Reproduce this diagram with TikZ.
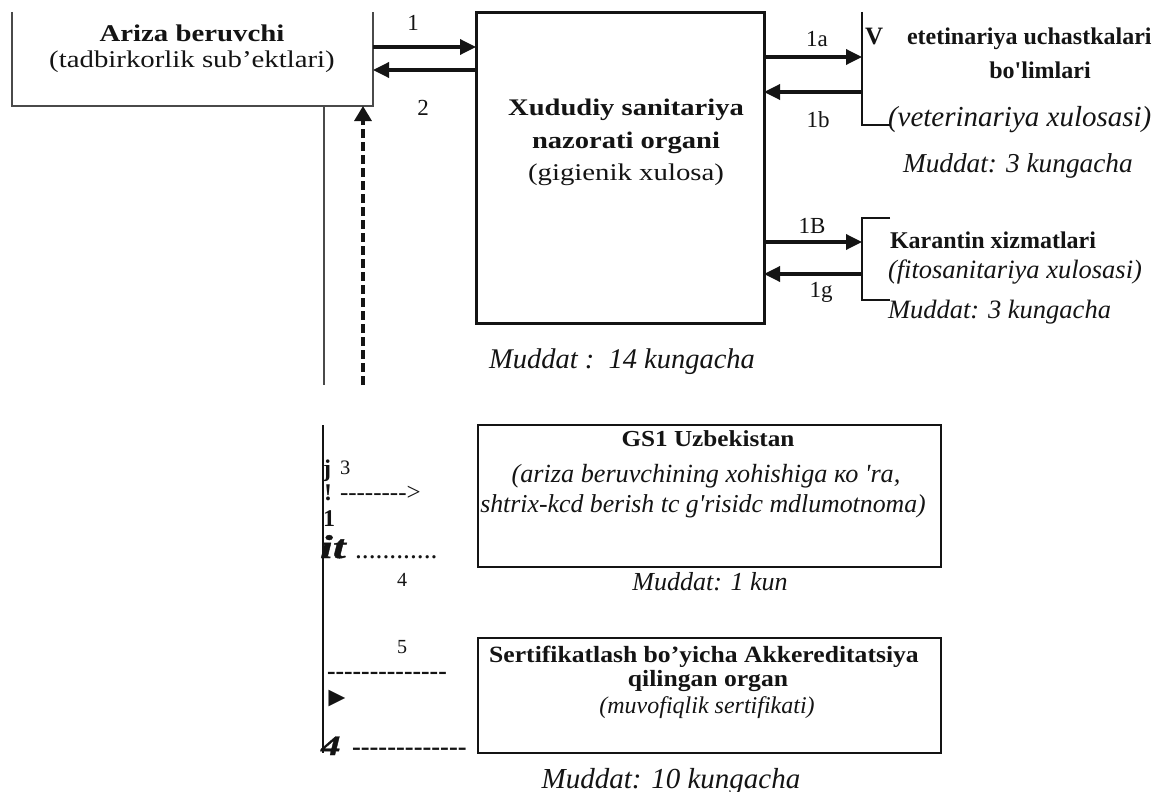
\documentclass[tikz,border=0pt]{standalone}
\usepackage{fontspec}
\setmainfont{Liberation Serif}
\newfontfamily\wideA{Liberation Serif}[FakeStretch=1.2]
\newfontfamily\wideB{Liberation Serif}[FakeStretch=1.1]
\newfontfamily\wideC{Liberation Serif}[FakeStretch=1.4,FakeBold=1.2]
\usetikzlibrary{arrows.meta}
\definecolor{ink}{HTML}{141414}
\definecolor{boxgray}{HTML}{4A4A4A}
\newcommand{\fsz}[1]{\fontsize{#1}{#1}\selectfont}
\newcommand{\sq}{\textquotesingle}
\tikzset{
  txt/.style={inner sep=0pt, outer sep=0pt, anchor=base, text=ink},
  txtw/.style={txt, anchor=base west},
  region/.style={inner sep=0pt, outer sep=0pt, draw=none},
  flow/.style={line width=3.4pt, draw=ink, -{Triangle[length=16pt,width=15pt]}},
  dasharrow/.style={line width=3.3pt, draw=ink, dash pattern=on 9pt off 4pt, -{Triangle[length=15pt,width=17pt]}},
  bigbox/.style={draw=ink, line width=3pt, inner sep=0pt, outer sep=0pt},
  smallbox/.style={draw=ink, line width=2.5pt, inner sep=0pt, outer sep=0pt},
  bracket/.style={draw=ink, line width=1.4pt},
  arizaline/.style={draw=boxgray, line width=1.7pt},
  thinline/.style={draw=boxgray, line width=1.4pt},
  leftline/.style={draw=ink, line width=2.2pt},
  lab/.style={txt, font=\fsz{23}},
}
\begin{document}
\begin{tikzpicture}[x=1pt,y=-1pt]
\useasboundingbox (0,0) rectangle (1157,792);
\fill[white] (0,0) rectangle (1157,792);

% ---------- helper rows ----------
\coordinate (r1) at (0,47);
\coordinate (r2) at (0,70);
\coordinate (r1a) at (0,57);
\coordinate (r1b) at (0,92);
\coordinate (r1v) at (0,242);
\coordinate (r1g) at (0,274);
\coordinate (s0) at (324,385);
\coordinate (d0) at (363,385);
\coordinate (b0) at (323,425);
\coordinate (b1) at (323,753);

% ---------- Ariza beruvchi ----------
\node[region, minimum width=361pt, minimum height=94pt, anchor=north west] (ariza) at (12,12) {};
\draw[arizaline] (ariza.north west) -- (ariza.south west) -- (ariza.south east) -- (ariza.north east);
\node[txt, font=\wideA\bfseries\fsz{24}] (arizaT) at (192,42) {Ariza beruvchi};
\node[txt, font=\wideA\fsz{24}] (arizaS) at (192,68) {(tadbirkorlik sub’ektlari)};

% ---------- Xududiy ----------
\node[bigbox, minimum width=288pt, minimum height=310pt, anchor=north west] (xud) at (476,13) {};
\node[txt, font=\wideA\bfseries\fsz{23.8}] (xudA) at (626,115) {Xududiy sanitariya};
\node[txt, font=\wideA\bfseries\fsz{23.8}] (xudB) at (626,148) {nazorati organi};
\node[txt, font=\wideA\fsz{24}] (xudC) at (626,180) {(gigienik xulosa)};
\node[txt, font=\itshape\fsz{28.5}] (xudM) at (622,368) {Muddat :\ \ 14 kungacha};

% arrows 1 / 2
\draw[flow] (ariza.east |- r1) -- (xud.west |- r1);
\draw[flow] (xud.west |- r2) -- (ariza.east |- r2);
\node[lab] (l1) at (413,31) {1};
\node[lab] (l2) at (423,115) {2};

% vertical lines below Ariza
\draw[thinline] (ariza.south -| s0) -- (s0);
\draw[dasharrow] (d0) -- (ariza.south -| d0);

% ---------- Veterinariya ----------
\node[region, minimum width=28pt, minimum height=113pt, anchor=north west] (vet) at (862,12) {};
\draw[bracket] (vet.north west) -- (vet.south west) -- (vet.south east);
\draw[flow] (xud.east |- r1a) -- (vet.west |- r1a);
\draw[flow] (vet.west |- r1b) -- (xud.east |- r1b);
\node[lab] (l1a) at (817,47) {1a};
\node[lab] (l1b) at (818,127) {1b};
\node[txtw, font=\bfseries\fsz{25}] (vetV) at (865,45) {V};
\node[txtw, font=\bfseries\fsz{24}] (vetA) at (907,45) {etetinariya uchastkalari};
\node[txt, font=\bfseries\fsz{24}] (vetB) at (1040,79) {bo\sq limlari};
\node[txtw, font=\itshape\fsz{29}] (vetC) at (888,126) {(veterinariya xulosasi)};
\node[txtw, font=\itshape\fsz{27.3}] (vetM) at (903,172) {Muddat: 3 kungacha};

% ---------- Karantin ----------
\node[region, minimum width=28pt, minimum height=82pt, anchor=north west] (kar) at (862,218) {};
\draw[bracket] (kar.north east) -- (kar.north west) -- (kar.south west) -- (kar.south east);
\draw[flow] (xud.east |- r1v) -- (kar.west |- r1v);
\draw[flow] (kar.west |- r1g) -- (xud.east |- r1g);
\node[lab] (l1v) at (812,233) {1B};
\node[lab] (l1g) at (821,297) {1g};
\node[txtw, font=\bfseries\fsz{24}] (karA) at (890,248) {Karantin xizmatlari};
\node[txtw, font=\itshape\fsz{26.5}] (karB) at (888,278) {(fitosanitariya xulosasi)};
\node[txtw, font=\itshape\fsz{26.5}] (karM) at (888,318) {Muddat: 3 kungacha};

% ---------- bottom part ----------
\draw[leftline] (b0) -- (b1);

\node[smallbox, minimum width=463pt, minimum height=142pt, anchor=north west] (gs1) at (478,425) {};
\node[txt, font=\wideB\bfseries\fsz{22.9}] (gsA) at (708,446) {GS1 Uzbekistan};
\node[txt, font=\itshape\fsz{26.2}] (gsB) at (706,482) {(ariza beruvchining xohishiga ко \sq ra,};
\node[txt, font=\itshape\fsz{25.8}] (gsC) at (703,512) {shtrix-kcd berish tc g\sq risidc mdlumotnoma)};
\node[txt, font=\itshape\fsz{26}] (gsM) at (710,590) {Muddat: 1 kun};

\node[smallbox, minimum width=463pt, minimum height=115pt, anchor=north west] (sert) at (478,638) {};
\node[txt, font=\wideB\bfseries\fsz{23.3}] (seA) at (704,662) {Sertifikatlash bo’yicha Akkereditatsiya};
\node[txt, font=\wideB\bfseries\fsz{23.3}] (seB) at (708,686) {qilingan organ};
\node[txt, font=\itshape\fsz{24}] (seC) at (707,713) {(muvofiqlik sertifikati)};
\node[txt, font=\itshape\fsz{29}] (seM) at (671,788) {Muddat: 10 kungacha};

% left column texts
\node[txtw, font=\bfseries\fsz{24}] (tj) at (323,476) {j};
\node[txtw, font=\fsz{20.5}] (t3) at (340,474) {3};
\node[txtw, font=\bfseries\fsz{24}] (tex) at (324,500) {!};
\node[txtw, font=\fsz{25}] (tarr) at (340,500) {-{}-{}-{}-{}-{}-{}-{}->};
\node[txtw, font=\bfseries\fsz{24}] (tone) at (323,526) {1};
\node[txtw, font=\wideC\bfseries\itshape\fsz{33}] (tit) at (320,558) {it};
\node[txtw, font=\fsz{27.5}] (tdots) at (355,558) {............};
\node[txtw, font=\fsz{20}] (t4) at (397,586) {4};
\node[txtw, font=\fsz{20}] (t5) at (397,653) {5};
\node[txtw, font=\bfseries\fsz{25.7}] (tdash1) at (327,679) {-{}-{}-{}-{}-{}-{}-{}-{}-{}-{}-{}-{}-{}-};
\node[txt, anchor=center, font=\fsz{28}] (ttri) at (337,699) {►};
\node[txtw, font=\wideC\bfseries\itshape\fsz{28}] (tfour) at (321,755) {4};
\node[txtw, font=\bfseries\fsz{26.5}] (tdash2) at (352,755) {-{}-{}-{}-{}-{}-{}-{}-{}-{}-{}-{}-{}-};
\end{tikzpicture}
\end{document}
